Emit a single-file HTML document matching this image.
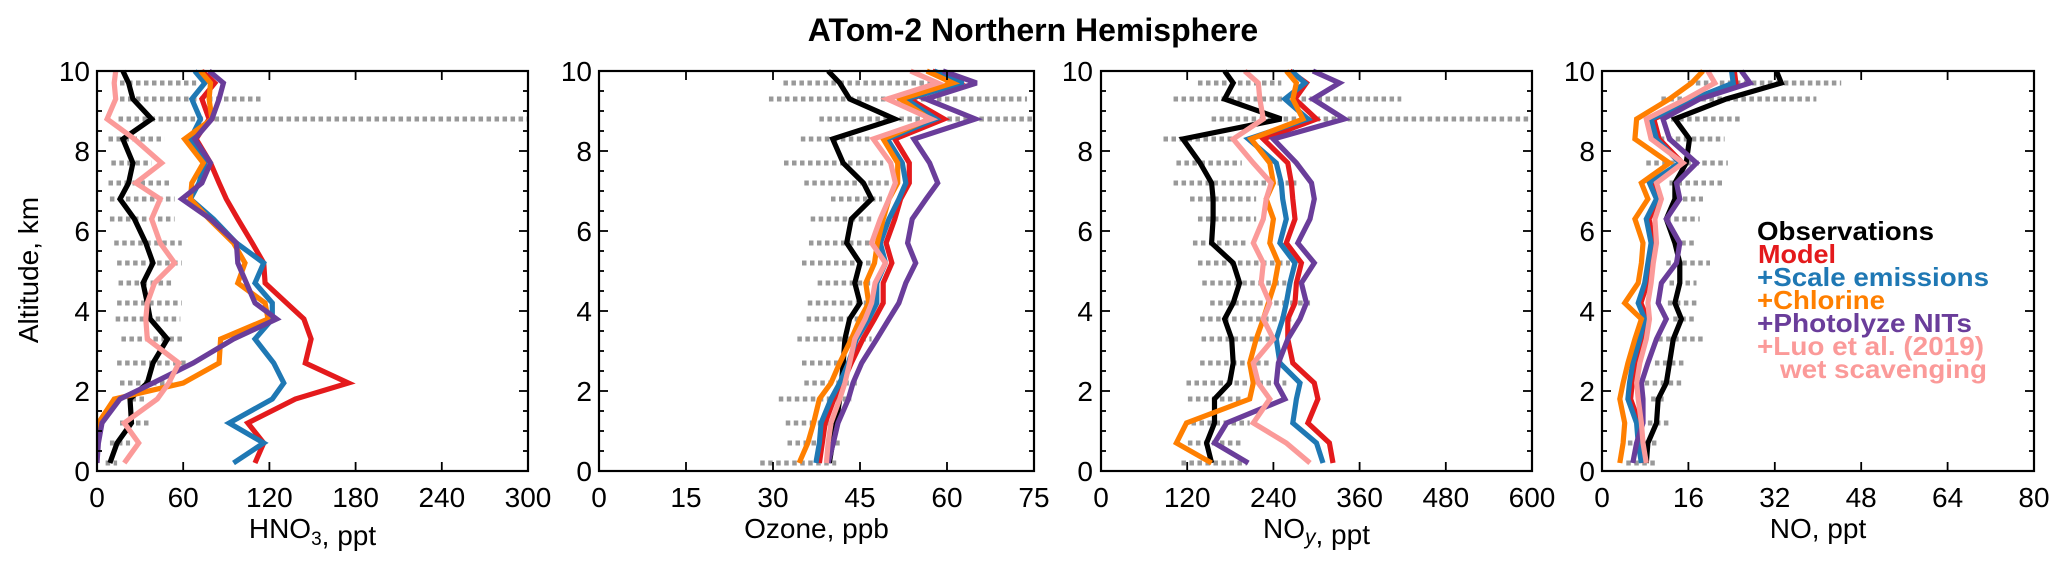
<!DOCTYPE html>
<html><head><meta charset="utf-8"><style>
html,body{margin:0;padding:0;background:#fff;}
svg{display:block;font-family:"Liberation Sans",Arial,sans-serif;}
</style></head><body>
<svg id="chart" width="2067" height="564" viewBox="0 0 2067 564" xmlns="http://www.w3.org/2000/svg">
<text x="1033" y="41" text-anchor="middle" font-size="32" font-weight="bold">ATom-2 Northern Hemisphere</text>
<text transform="translate(38,270) rotate(-90)" text-anchor="middle" font-size="28">Altitude, km</text>
<g id="plots"></g>
<g font-size="26" font-weight="bold">
<text x="1757" y="240" fill="#000" textLength="177" lengthAdjust="spacingAndGlyphs">Observations</text>
<text x="1758" y="263" fill="#e41a1c" textLength="78" lengthAdjust="spacingAndGlyphs">Model</text>
<text x="1757" y="286" fill="#1f78b4" textLength="232" lengthAdjust="spacingAndGlyphs">+Scale emissions</text>
<text x="1757" y="309" fill="#ff7f00" textLength="128" lengthAdjust="spacingAndGlyphs">+Chlorine</text>
<text x="1757" y="332" fill="#6a3d9a" textLength="215" lengthAdjust="spacingAndGlyphs">+Photolyze NITs</text>
<text x="1757" y="355" fill="#fb9a99" textLength="227" lengthAdjust="spacingAndGlyphs">+Luo et al. (2019)</text>
<text x="1780" y="378" fill="#fb9a99" textLength="207" lengthAdjust="spacingAndGlyphs">wet scavenging</text>
</g>
</svg>
<script>
const altLevels=[0.2,0.7,1.2,1.8,2.2,2.7,3.3,3.8,4.2,4.7,5.2,5.7,6.3,6.8,7.2,7.7,8.3,8.8,9.3,9.7,10];
const obsLevels=[0.2,0.7,1.2,1.8,2.2,2.7,3.3,3.8,4.2,4.7,5.2,5.7,6.3,6.8,7.2,7.7,8.3,8.8,9.3,9.7];
const seriesNames=["observations","model","scale-emissions","chlorine","photolyze-nits","luo-2019"];
const seriesColors=["#000","#e41a1c","#1f78b4","#ff7f00","#6a3d9a","#fb9a99"];

// HNO3
const hno3Ticks=[0,60,120,180,240,300];
const hno3Obs=[9,14,24,23,35,39,49,37,35,32,39,34,26,16,22,25,18,38,25,22,18];
const hno3Model=[110,116,105,138,175,145,149,144,132,117,116,108,98,90,85,79,69,78,73,82,73];
const hno3Scale=[95,116,92,122,130,123,110,122,122,110,116,97,81,65,71,75,65,72,66,75,68];
const hno3Cl=[0,0,1,12,60,85,86,119,117,98,103,95,78,65,66,74,61,80,78,79,72];
const hno3Nit=[0,1,3.5,16,39,67,95,125,110,104,98,97,79,59,73,79,68,80,85,88,78];
const hno3Luo=[19,29,19,42,50,57,35,34,35,40,54,44,38,44,27,45,26,7,13,12,13];
const hno3ObsMin=[6,9,16,24,16,14,17,13,14,15,14,12,9,9,8,10,8,15,16,16];
const hno3ObsMax=[14,23,36,35,54,63,61,58,59,53,59,59,54,54,51,38,47,300,116,69];

// Ozone
const o3Ticks=[0,15,30,45,60,75];
const o3Obs=[39.7,40.3,40.9,41.5,41.8,42.1,42.4,43.2,45,44.1,45,42.7,43.5,47,45.6,42.1,40.3,51,43.2,41.5,39.5];
const o3Model=[38,38.5,39,40.5,42,43.5,45.5,47.5,49,49,50.5,49.5,51,52,53.5,53.5,51,59.5,53.5,62,57.5];
const o3Scale=[37.4,38,38.3,40,41.5,43,44.4,46.5,47.9,47.9,49.4,48.5,50,51.7,52.9,52.3,49.7,58.1,52.9,62.8,57.8];
const o3Cl=[34.5,36,37,38,40,41.5,43.5,45,46.5,46,47.5,48,49,50,51.5,51.5,49,57,52,61,56.5];
const o3Nit=[39.5,40.4,41.2,43,43.8,45.3,47.9,50,51.7,52.9,54.6,53.2,54,56.4,58.4,57,54.3,64.9,56.4,65.1,59.3];
const o3Luo=[39.2,39.5,40,41.5,42.4,43.2,44.1,45.9,47,47.6,49.4,47,48.5,50,51.1,50.3,47.3,57.3,49.7,58.4,53.7];
const o3ObsMin=[27.8,32.5,32.2,31,35.4,35,34.2,35.8,36,37.7,35,36.2,36.5,40,35.4,31.9,34.8,38,29.3,31.8];
const o3ObsMax=[40.9,41.5,41.8,43.5,44.7,43.8,47,47,47.6,47.3,47.6,47,47.1,48.8,50,49,48.2,75,73.8,58];

// NOy
const noyTicks=[0,120,240,360,480,600];
const noyObs=[154,147,158,158,179,184,182,172,184,193,184,154,156,156,154,138,114,251,172,184,172];
const noyModel=[323,318,288,302,297,267,260,260,270,272,279,258,270,267,265,260,226,300,270,286,263];
const noyScale=[309,300,267,272,277,249,244,253,258,263,270,249,258,253,251,244,205,288,256,284,265];
const noyCl=[154,105,119,207,212,207,216,226,233,242,247,235,240,230,240,235,209,281,267,272,258];
const noyNit=[205,158,175,256,244,247,260,277,286,279,297,274,291,297,293,272,240,339,295,332,295];
const noyLuo=[291,258,212,235,219,212,240,226,235,223,226,212,226,230,237,212,184,226,221,219,200];
const noyObsMin=[112,121,126,121,119,138,140,138,152,141,135,128,135,124,101,105,87,154,101,135];
const noyObsMax=[203,198,207,198,258,235,240,265,291,258,263,203,216,216,272,196,189,600,418,251];

// NO
const noTicks=[0,16,32,48,64,80];
const noObs=[8.2,8.5,10.1,10.4,11.9,12.5,13.2,14.7,13.5,14.4,14.4,13.5,11.9,13.5,13.5,15.6,16.2,13.5,23,33.2,32.3];
const noModel=[7.6,7.2,6.9,5.3,5.6,6.2,7.5,8.4,7.2,8.4,9,9.6,8.7,10.6,9.3,14.9,10.6,9.6,17.4,24.8,24.5];
const noScale=[7.3,6.7,6.4,4.8,5.1,5.7,7,7.9,6.7,7.9,8.5,9.1,8.2,10.1,8.8,14.4,10.1,9.1,16.9,24.3,24];
const noCl=[3.3,3.9,4.2,3.3,3.9,4.8,6.1,7.3,4.2,6.7,7.3,7.6,6.1,8.5,7.3,12.5,6.1,6.4,12.5,16.6,18.7];
const noNit=[5.7,6.4,7.6,7.6,7.3,8.5,10.1,11.9,10.4,11,13.8,14.4,11.9,14.4,13.8,17.5,12.5,11.3,18.1,27.4,25.8];
const noLuo=[8.2,7.6,7.3,6.7,6.4,7,8.2,8.8,8.5,9.1,9.5,10.1,9.8,11,10.1,15,9.1,8.2,15.6,20.9,19.6];
const noObsMin=[4.5,4.8,8.5,9.1,7.9,9.8,10.4,13.2,12.2,12.5,11.9,13.2,11.9,13.5,12.5,8.2,10.7,12.8,11,15.9];
const noObsMax=[10.4,10.1,12.5,11.9,15.3,15.3,18.7,17.2,17.5,17.5,20,17.2,18.1,18.7,22.4,23.3,22.7,25.5,39.7,44.3];

const NS="http://www.w3.org/2000/svg";
const root=document.getElementById('plots');
function mk(tag,attrs,parent){const e=document.createElementNS(NS,tag);for(const k in attrs)e.setAttribute(k,attrs[k]);parent.appendChild(e);return e;}

const panels=[
 {key:"hno3",x0:97,x1:528,max:300,ticks:hno3Ticks,series:[hno3Obs,hno3Model,hno3Scale,hno3Cl,hno3Nit,hno3Luo],omin:hno3ObsMin,omax:hno3ObsMax,ylab:90,title:["HNO",{sub:"3"},", ppt"]},
 {key:"ozone",x0:599,x1:1034,max:75,ticks:o3Ticks,series:[o3Obs,o3Model,o3Scale,o3Cl,o3Nit,o3Luo],omin:o3ObsMin,omax:o3ObsMax,ylab:592,title:["Ozone, ppb"]},
 {key:"noy",x0:1101,x1:1532,max:600,ticks:noyTicks,series:[noyObs,noyModel,noyScale,noyCl,noyNit,noyLuo],omin:noyObsMin,omax:noyObsMax,ylab:1093,title:["NO",{ital:"y"},", ppt"]},
 {key:"no",x0:1602,x1:2034,max:80,ticks:noTicks,series:[noObs,noModel,noScale,noCl,noNit,noLuo],omin:noObsMin,omax:noObsMax,ylab:1595,title:["NO, ppt"]}
];
const yTop=71,yBot=471;
function yScale(a){return yBot-(a/10)*(yBot-yTop);}

panels.forEach(p=>{
 const xs=v=>p.x0+(Math.min(v,p.max)/p.max)*(p.x1-p.x0);
 const g=mk('g',{},root);
 
 
 const clipId='clip-'+p.key;
 const cp=mk('clipPath',{id:clipId},g);
 mk('rect',{x:p.x0,y:yTop-6,width:p.x1-p.x0,height:yBot-yTop+6},cp);
 const dg=mk('g',{'clip-path':'url(#'+clipId+')'},g);
 obsLevels.forEach((a,i)=>{
  const l=mk('line',{x1:xs(p.omin[i]),x2:xs(p.omax[i]),y1:yScale(a),y2:yScale(a),stroke:'#999','stroke-width':5,'stroke-dasharray':'4.5 3.5'},dg);
  
  
 });
 p.series.forEach((s,si)=>{
  const pts=s.map((v,i)=>xs(v).toFixed(1)+','+yScale(altLevels[i]).toFixed(1)).join(' ');
  const pl=mk('polyline',{points:pts,fill:'none',stroke:seriesColors[si],'stroke-width':5.2,'stroke-linejoin':'miter','stroke-miterlimit':3},dg);
  
  
 });
 const fr=mk('rect',{x:p.x0,y:yTop,width:p.x1-p.x0,height:yBot-yTop,fill:'none',stroke:'#000','stroke-width':2.2},g);
 
 
 for(let k=0;k<=20;k++){
  const y=yScale(k*0.5);const len=(k%4===0)?9:5;
  mk('line',{x1:p.x0,x2:p.x0+len,y1:y,y2:y,stroke:'#000','stroke-width':1.8},g);
  mk('line',{x1:p.x1,x2:p.x1-len,y1:y,y2:y,stroke:'#000','stroke-width':1.8},g);
 }
 [0,2,4,6,8,10].forEach(v=>{
  const t=mk('text',{x:p.ylab,y:yScale(v)+10,'text-anchor':'end','font-size':28},g);
  t.textContent=v;
  
  
 });
 p.ticks.forEach(v=>{
  const x=xs(v);
  mk('line',{x1:x,x2:x,y1:yBot,y2:yBot-9,stroke:'#000','stroke-width':1.8},g);
  mk('line',{x1:x,x2:x,y1:yTop,y2:yTop+9,stroke:'#000','stroke-width':1.8},g);
  const t=mk('text',{x:x,y:507,'text-anchor':'middle','font-size':28},g);
  t.textContent=v;
  
  
 });
 const tt=mk('text',{x:(p.x0+p.x1)/2,y:538,'text-anchor':'middle','font-size':28},g);
 
 
 p.title.forEach(part=>{
  if(typeof part==='string'){const s=mk('tspan',{},tt);s.textContent=part;}
  else if(part.sub){const s=mk('tspan',{dy:7,'font-size':19},tt);s.textContent=part.sub;const r=mk('tspan',{dy:-7},tt);r.textContent='';}
  else if(part.ital){const s=mk('tspan',{dy:6,'font-size':21,'font-style':'italic'},tt);s.textContent=part.ital;const r=mk('tspan',{dy:-6},tt);r.textContent='';}
 });
});
</script>
</body></html>
